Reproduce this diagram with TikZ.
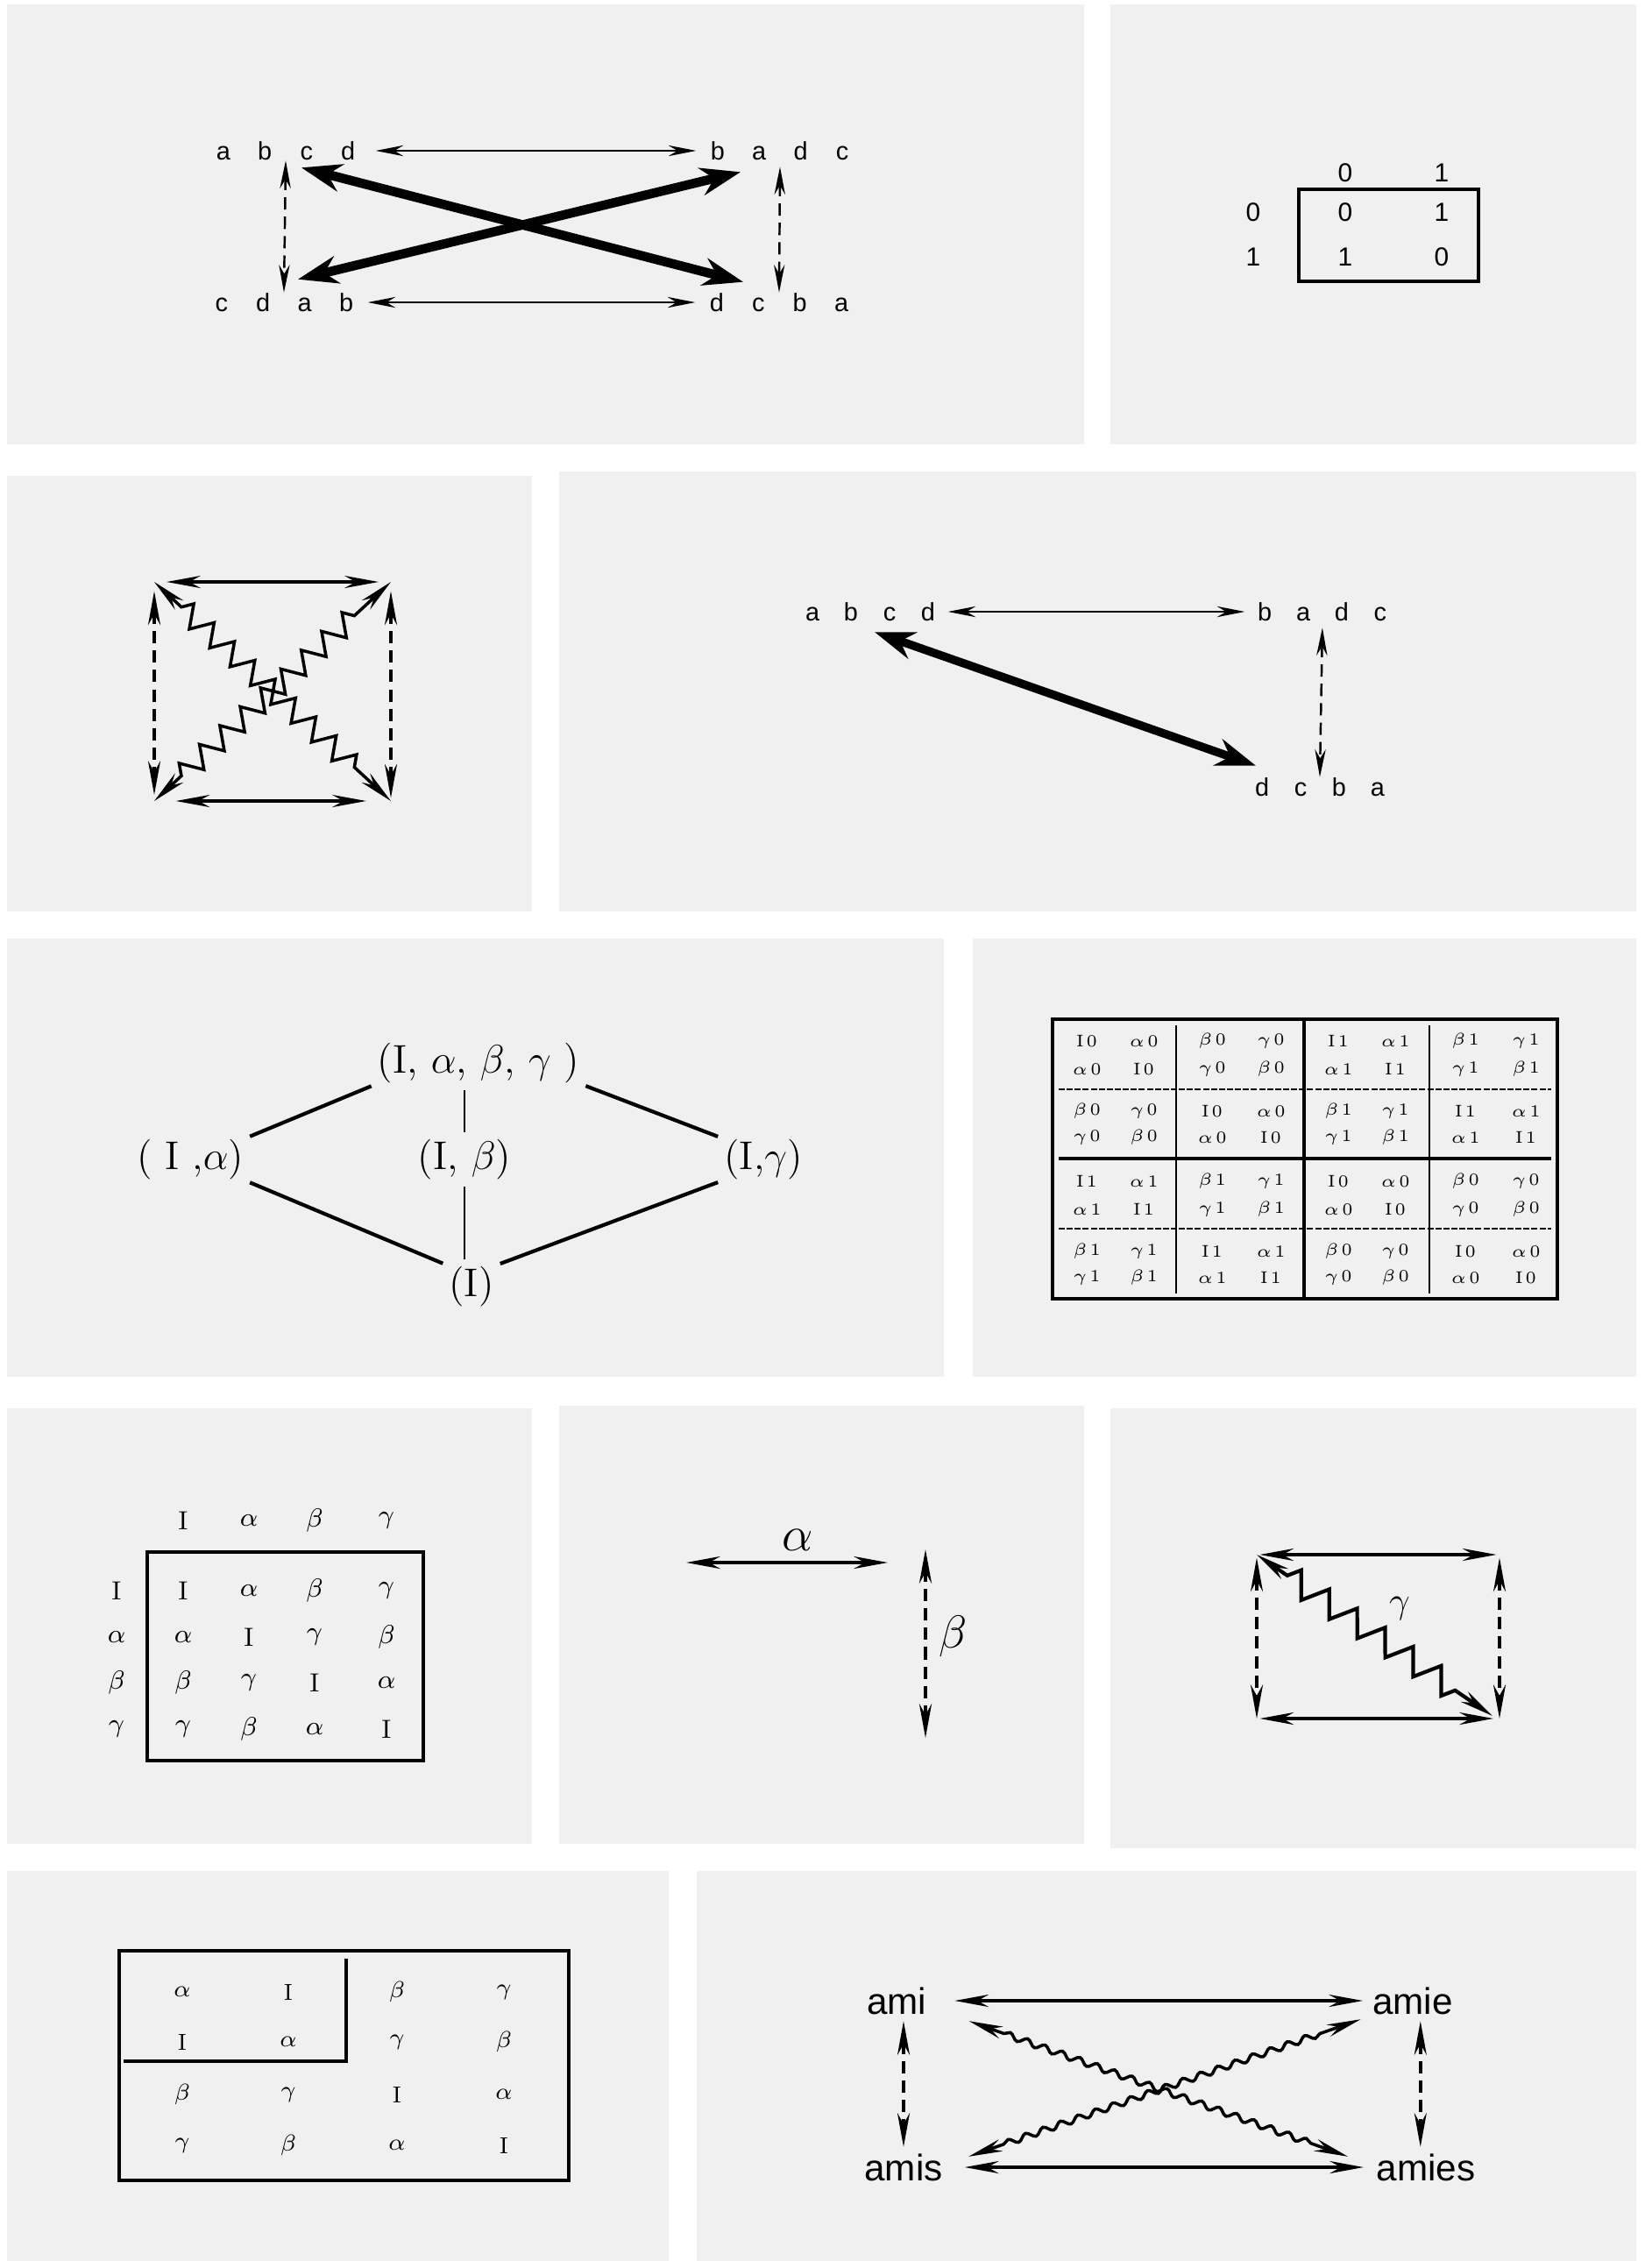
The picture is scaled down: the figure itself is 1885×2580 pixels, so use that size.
\documentclass[tikz,border=0pt]{standalone}
\usepackage{fix-cm}
\usepackage{fontspec}
\setsansfont{Liberation Sans}
\usetikzlibrary{arrows.meta,calc,decorations.pathmorphing,positioning}

\definecolor{panel}{RGB}{240,240,240}

\newcommand\perm[5][13.5pt]{\makebox[#1]{#2}\makebox[#1]{#3}\makebox[#1]{#4}\makebox[#1]{#5}}
\newcommand\symI{I}
\newcommand\syma{$\alpha$}
\newcommand\symb{$\beta$}
\newcommand\symg{$\gamma$}
\newcommand\ent[2]{\csname sym#1\endcsname\,#2}

\begin{document}
\begin{tikzpicture}[
    x=0.01cm,
    y=-0.01cm,
    >={Stealth[length=9pt,width=3.5pt]},
    perm/.style={font=\sffamily\fontsize{8.2}{9}\selectfont, inner sep=0pt},
    bit/.style={font=\sffamily\fontsize{8.5}{10}\selectfont, inner sep=0pt},
    set/.style={font=\fontsize{13}{15}\selectfont, inner sep=0pt},
    cell/.style={font=\fontsize{5.5}{6}\selectfont, inner sep=0pt},
    grp/.style={font=\fontsize{8.5}{10}\selectfont, inner sep=0pt},
    word/.style={font=\sffamily\fontsize{12}{14}\selectfont, inner sep=0pt},
    link/.style={<->, line width=0.7pt},
    dlink/.style={<->, line width=0.7pt, dash pattern=on 4pt off 2.3pt},
    heavy/.style={{Stealth[length=13pt,width=9pt]}-{Stealth[length=13pt,width=9pt]}, line width=3pt},
    strong/.style={>={Stealth[length=11pt,width=4pt]}, <->, line width=1pt},
    dstrong/.style={strong, dash pattern=on 4pt off 2.3pt},
    tie/.style={line width=1.2pt, shorten <=2pt, shorten >=2pt},
    zz/.style={decorate, decoration={zigzag, segment length=9pt, amplitude=3.5pt, pre length=12pt, post length=12pt}},
    wave/.style={decorate, decoration={snake, segment length=6pt, amplitude=1pt, pre length=12pt, post length=12pt}}
]
\fill[white] (0,0) rectangle (1885,2580);
\useasboundingbox (0,0) rectangle (1885,2580);

% panels
\foreach \xa/\ya/\xb/\yb in {8/5/1237/507, 1267/5/1867/507, 8/543/607/1040,
    638/538/1867/1040, 8/1071/1077/1571, 1110/1071/1867/1571, 8/1607/607/2104,
    638/1604/1237/2104, 1267/1607/1867/2109, 8/2135/763/2580, 795/2135/1867/2580}
  \fill[panel] (\xa,\ya) rectangle (\xb,\yb);

% permutations, square
\node[perm] (tl) at (326,172) {\perm{a}{b}{c}{d}};
\node[perm] (tr) at (890,172) {\perm{b}{a}{d}{c}};
\node[perm] (bl) at (324,345) {\perm{c}{d}{a}{b}};
\node[perm] (br) at (889,345) {\perm{d}{c}{b}{a}};
\draw[link, shorten <=2pt] (tl) -- (tr);
\draw[link] (bl) -- (br);
\draw[dlink] (tl.south) -- (bl.north);
\draw[dlink] ([yshift=-2pt]tr.south) -- (br.north);
\draw[heavy] ($(tl.south)+(18,8)$) -- ($(br.north)+(-41,-12)$);
\draw[heavy] ($(bl.north)+(16,-15)$) -- ($(tr.south)+(-45,13)$);

% table 0/1
\node[bit] (c0) at (1535,197) {0};
\node[bit] (c1) at (1645,197) {1};
\node[bit] (r0) at (1430,242) {0};
\node[bit] (r1) at (1430,293) {1};
\node[bit] (e00) at (1535,242) {0};
\node[bit] (e01) at (1645,242) {1};
\node[bit] (e10) at (1535,293) {1};
\node[bit] (e11) at (1645,293) {0};
\draw[line width=1.1pt] (1482,216) rectangle (1687,321);

% square with zigzags
\coordinate (ctl) at (176,664);
\coordinate (ctr) at (446,664);
\coordinate (cbl) at (176,914);
\coordinate (cbr) at (446,914);
\draw[strong, shorten <=4pt, shorten >=4pt] (ctl) -- (ctr);
\draw[strong, shorten <=7pt, shorten >=8pt] (cbl) -- (cbr);
\draw[dstrong, shorten <=3pt, shorten >=2pt] (ctl) -- (cbl);
\draw[dstrong, shorten <=3pt, shorten >=1pt] (ctr) -- (cbr);
\draw[strong, zz] (ctl) -- (cbr);
\draw[strong, zz] (cbl) -- (ctr);

% permutations, triangle
\node[perm] (dtl) at (993,698) {\perm[12.5pt]{a}{b}{c}{d}};
\node[perm] (dtr) at (1509,698) {\perm[12.5pt]{b}{a}{d}{c}};
\node[perm] (dbr) at (1506,898) {\perm[12.5pt]{d}{c}{b}{a}};
\draw[link] (dtl) -- (dtr);
\draw[dlink, shorten <=2pt] (dtr.south) -- (dbr.north);
\draw[heavy, line width=2.7pt] ($(dtl.south)+(5,12)$) -- ($(dbr.north)+(-73,-13)$);

% subgroups
\node[set] (top) at (546,1213) {(I, $\alpha$, $\beta$, $\gamma$ )};
\node[set] (ia) at (217,1323) {( I ,$\alpha$)};
\node[set] (ib) at (530,1323) {(I, $\beta$)};
\node[set] (ig) at (871,1323) {(I,$\gamma$)};
\node[set] (one) at (538,1468) {(I)};
\draw[tie] (top.south west) -- (ia.north east);
\draw[tie] (top.south east) -- (ig.north west);
\draw[tie, line width=0.8pt] (ib.north |- top.south) -- (ib.north);
\draw[tie, line width=0.8pt] (ib.south) -- (ib.south |- one.north);
\draw[tie] (ia.south east) -- (one.north west);
\draw[tie] (ig.south west) -- (one.north east);

% big table
\draw[line width=1pt] (1201,1163) rectangle (1777,1482);
\draw[line width=1pt] (1488,1163) -- (1488,1482);
\draw[line width=0.4pt] (1342,1170) -- (1342,1476);
\draw[line width=0.4pt] (1631,1170) -- (1631,1476);
\draw[line width=0.4pt, dash pattern=on 2pt off 0.6pt] (1208,1243) -- (1770,1243);
\draw[line width=1pt] (1208,1322) -- (1770,1322);
\draw[line width=0.4pt, dash pattern=on 2pt off 0.6pt] (1208,1402) -- (1770,1402);
\foreach \y/\row in {1188/{I0,a0,b0,g0,I1,a1,b1,g1}, 1220/{a0,I0,g0,b0,a1,I1,g1,b1},
    1268/{b0,g0,I0,a0,b1,g1,I1,a1}, 1298/{g0,b0,a0,I0,g1,b1,a1,I1},
    1348/{I1,a1,b1,g1,I0,a0,b0,g0}, 1380/{a1,I1,g1,b1,a0,I0,g0,b0},
    1428/{b1,g1,I1,a1,b0,g0,I0,a0}, 1458/{g1,b1,a1,I1,g0,b0,a0,I0}} {
  \foreach \e [count=\c from 0] in \row {
    \pgfmathsetmacro\xe{{1240,1305,1383,1450,1527,1592,1672,1741}[\c]}
    \node[cell] (f\y-\c) at (\xe,\y) {\expandafter\ent\e};
  }
}

% group table
\foreach \x/\s [count=\i] in {209/I, 284/a, 359/b, 441/g}
  \node[grp] (gh\i) at (\x,1735) {\csname sym\s\endcsname};
\foreach \y/\s [count=\i] in {1815/I, 1868/a, 1920/b, 1973/g}
  \node[grp] (gr\i) at (133,\y) {\csname sym\s\endcsname};
\foreach \y/\row [count=\r] in {1815/{I,a,b,g}, 1868/{a,I,g,b}, 1920/{b,g,I,a}, 1973/{g,b,a,I}} {
  \foreach \s [count=\c from 0] in \row {
    \pgfmathsetmacro\xs{{209,284,359,441}[\c]}
    \node[grp] (g\r-\c) at (\xs,\y) {\csname sym\s\endcsname};
  }
}
\draw[line width=1.2pt] (168,1771) rectangle (483,2009);

% alpha and beta
\coordinate (ha) at (783,1783);
\coordinate (hb) at (1013,1783);
\coordinate (hc) at (1056,1768);
\coordinate (hd) at (1056,1983);
\draw[strong, line width=1.2pt] (ha) -- (hb);
\draw[dstrong, line width=1.2pt] (hc) -- (hd);
\node[font=\fontsize{16}{18}\selectfont, inner sep=0pt] (alab) at (910,1757) {$\alpha$};
\node[font=\fontsize{15}{18}\selectfont, inner sep=0pt] (blab) at (1088,1867) {$\beta$};

% gamma
\coordinate (itl) at (1434,1774);
\coordinate (itr) at (1711,1774);
\coordinate (ibl) at (1434,1961);
\coordinate (ibr) at (1711,1961);
\draw[strong, shorten <=1pt, shorten >=1pt] (itl) -- (itr);
\draw[strong, shorten <=1pt, shorten >=2pt] (ibl) -- (ibr);
\draw[dstrong, shorten <=1pt] (itl) -- (ibl);
\draw[dstrong, shorten <=1pt] (itr) -- (ibr);
\draw[strong, line width=1.2pt, decorate, decoration={zigzag, segment length=11pt, amplitude=4pt, pre length=12pt, post length=12pt}] (itl) -- ($(ibr)+(-8,-3)$);
\node[font=\fontsize{12}{14}\selectfont, inner sep=0pt] (glab) at (1597,1835) {$\gamma$};

% Klein table
\draw[line width=1pt] (136,2226) rectangle (649,2488);
\draw[line width=1.2pt] (395,2235) -- (395,2352) -- (141,2352);
\foreach \y/\row [count=\r] in {2273/{a,I,b,g}, 2330/{I,a,g,b}, 2390/{b,g,I,a}, 2448/{g,b,a,I}} {
  \foreach \s [count=\c from 0] in \row {
    \pgfmathsetmacro\xs{{208,329,453,575}[\c]}
    \node[grp, font=\fontsize{7.5}{9}\selectfont] (j\r-\c) at (\xs,\y) {\csname sym\s\endcsname};
  }
}

% ami
\node[word] (ami) at (1023,2283) {ami};
\node[word] (amie) at (1612,2283) {amie};
\node[word] (amis) at (1031,2473) {amis};
\node[word] (amies) at (1627,2473) {amies};
\draw[strong, shorten <=9pt, shorten >=3pt] (ami) -- (amie);
\draw[strong, shorten <=7pt, shorten >=4pt] (amis) -- (amies);
\draw[dstrong, shorten <=2pt, shorten >=2pt] (amis.north |- ami.south) -- (amis.north);
\draw[dstrong, shorten <=2pt, shorten >=2pt] ([xshift=2.5pt]amie.south) -- ([xshift=2.5pt]amie.south |- amies.north);
\draw[strong, wave] ($(ami.south east)+(48,7)$) -- ($(amies.north west)+(-32,4)$);
\draw[strong, wave] ($(amis.north east)+(29,4)$) -- ($(amie.south west)+(-13,5)$);
\end{tikzpicture}
\end{document}
